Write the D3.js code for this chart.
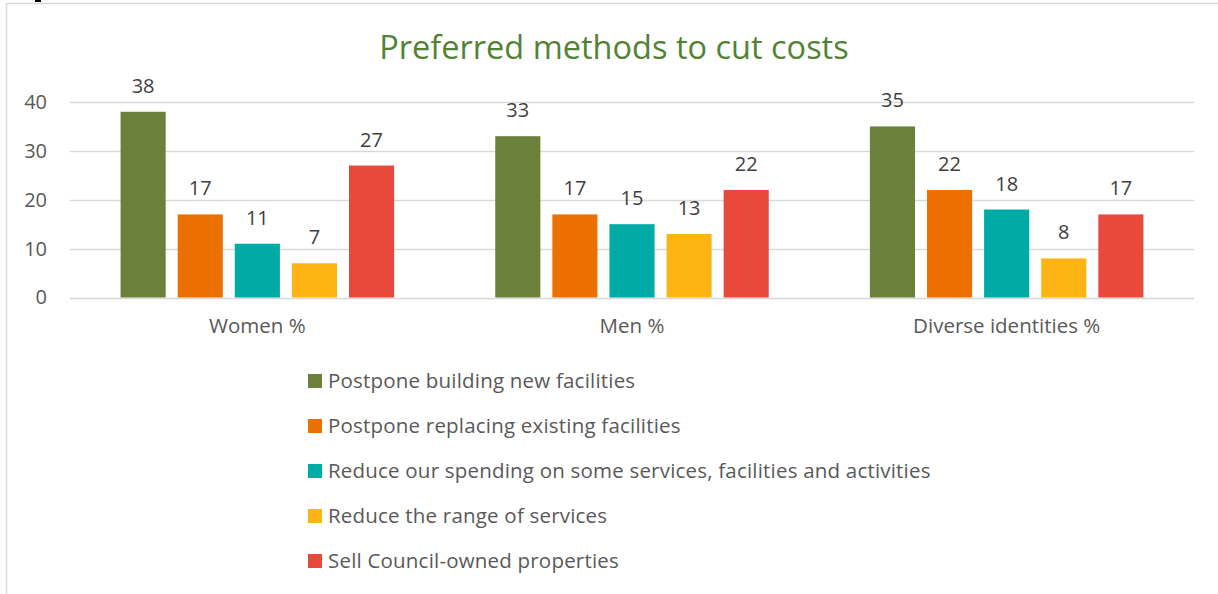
<!DOCTYPE html>
<html>
<head>
<meta charset="utf-8">
<script src="https://cdn.jsdelivr.net/npm/d3@7"></script>
<style>
  html, body { margin: 0; padding: 0; background: #fff; }
  svg { display: block; }
  text { font-family: "Open Sans", Lato, sans-serif; }
</style>
</head>
<body>
<svg id="chart" width="1218" height="594"></svg>
<script>
// Chart data
const categories = ["Women %", "Men %", "Diverse identities %"];
const seriesNames = [
  "Postpone building new facilities",
  "Postpone replacing existing facilities",
  "Reduce our spending on some services, facilities and activities",
  "Reduce the range of services",
  "Sell Council-owned properties"
];
// values[series][category]
const postponeBuilding = [38, 33, 35];
const postponeReplacing = [17, 17, 22];
const reduceSpending = [11, 15, 18];
const reduceRange = [7, 13, 8];
const sellProperties = [27, 22, 17];
const seriesValues = [postponeBuilding, postponeReplacing, reduceSpending, reduceRange, sellProperties];
const seriesColors = ["#6b803a", "#eb7000", "#00aaa5", "#fdb515", "#e8493a"];
const yTicks = [0, 10, 20, 30, 40];

const FONT = "'Open Sans', Lato, sans-serif";
const svg = d3.select("#chart");

// Frame lines
svg.append("line").attr("x1", 6).attr("x2", 1218).attr("y1", 3.5).attr("y2", 3.5)
  .attr("stroke", "#d9d9d9").attr("stroke-width", 1.5);
svg.append("line").attr("x1", 6.5).attr("x2", 6.5).attr("y1", 3).attr("y2", 594)
  .attr("stroke", "#d9d9d9").attr("stroke-width", 1.5);
svg.append("rect").attr("x", 35).attr("y", 0).attr("width", 6).attr("height", 2).attr("fill", "#000");

const plot = { left: 70, right: 1194, top: 102, bottom: 297.5 };

const x0 = d3.scaleBand().domain(categories).range([plot.left, plot.right]).paddingInner(0.27).paddingOuter(0.135);
const x1 = d3.scaleBand().domain(d3.range(seriesNames.length)).range([0, x0.bandwidth()]).paddingInner(0.21);
const y = d3.scaleLinear().domain([0, 40]).range([plot.bottom, plot.top]);

// Gridlines
svg.append("g").selectAll("line").data(yTicks).join("line")
  .attr("x1", plot.left).attr("x2", plot.right)
  .attr("y1", d => Math.round(y(d)) + 0.5).attr("y2", d => Math.round(y(d)) + 0.5)
  .attr("stroke", "#d9d9d9").attr("stroke-width", 1.5);

// Y axis labels
const yAxis = d3.axisLeft(y).tickValues(yTicks).tickSize(0).tickPadding(0);
svg.append("g").attr("transform", `translate(47,0)`).call(yAxis)
  .call(g => g.select(".domain").remove())
  .call(g => g.selectAll("text").attr("font-size", 20).attr("fill", "#595959")
    .attr("font-family", FONT));

// X axis labels
const xAxis = d3.axisBottom(x0).tickSize(0).tickPadding(0);
svg.append("g").attr("transform", `translate(0,${plot.bottom + 21})`).call(xAxis)
  .call(g => g.select(".domain").remove())
  .call(g => g.selectAll("text").attr("font-size", 20.5).attr("fill", "#595959")
    .attr("font-family", FONT));

// Bars
const groups = svg.append("g").selectAll("g").data(categories).join("g")
  .attr("transform", d => `translate(${x0(d)},0)`);

groups.each(function (cat, ci) {
  const g = d3.select(this);
  const rows = seriesValues.map((vals, si) => ({ si, v: vals[ci] }));
  g.selectAll("rect").data(rows).join("rect")
    .attr("x", d => x1(d.si)).attr("width", x1.bandwidth())
    .attr("y", d => y(d.v)).attr("height", d => y(0) - y(d.v))
    .attr("fill", d => seriesColors[d.si]);
  g.selectAll("text").data(rows).join("text")
    .attr("x", d => x1(d.si) + x1.bandwidth() / 2)
    .attr("y", d => y(d.v) - 19)
    .attr("text-anchor", "middle")
    .attr("font-size", 20).attr("fill", "#404040")
    .text(d => d.v);
});

// Title
svg.append("text").attr("x", 614).attr("y", 59).attr("text-anchor", "middle")
  .attr("font-size", 32.5).attr("fill", "#548235")
  .text("Preferred methods to cut costs");

// Legend
const legend = svg.append("g").selectAll("g").data(seriesNames).join("g")
  .attr("transform", (d, i) => `translate(308,${381 + i * 45})`);
legend.append("rect").attr("x", 0).attr("y", -7).attr("width", 14).attr("height", 14)
  .attr("fill", (d, i) => seriesColors[i]);
legend.append("text").attr("x", 20).attr("y", 7).attr("font-size", 20.5).attr("fill", "#595959")
  .attr("letter-spacing", 0.2)
  .text(d => d);
</script>
</body>
</html>
